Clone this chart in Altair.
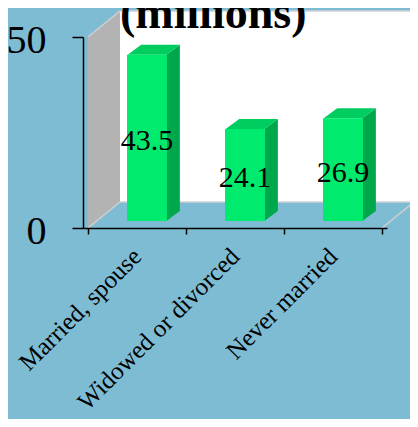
import json
import altair as alt
import pandas as pd

# ---- data ----
categories = ["Married, spouse", "Widowed or divorced", "Never married"]
values = [43.5, 24.1, 26.9]
y_ticks = [0, 50]
title_text = "(millions)"

# ---- layout / style constants (pixels) ----
W, H = 304, 191
XMAX, YMAX = 3, 50
pxx = W / XMAX
pxy = H / YMAX
WALL_DX, WALL_DY = 33, 26
BAR_DX, BAR_DY = 10, 7
BAR_W = 40
SIDE_DX, SIDE_DY = 14, 10

BG = "#7ebcd4"
FRONT = "#00ea6e"
TOP = "#00cd5f"
SIDE = "#00a84c"
WALL = "#b3b3b3"
EDGE = "#d0d0d0"
SERIF = "Liberation Serif"

# ---- tables built from the arrays ----
pos = [i + 0.5 for i in range(len(categories))]
bars = pd.DataFrame({"cat": categories, "pos": pos, "value": values})
bars["label"] = [f"{v:.1f}" for v in values]
bars["mid"] = [v / 2 for v in values]

hw = BAR_W / 2 / pxx
sdx = SIDE_DX / pxx
sdy = SIDE_DY / pxy
side_rows, top_rows = [], []
for c, p, v in zip(categories, pos, values):
    l, r = p - hw, p + hw
    side_rows += [dict(cat=c, x=r, y=0, y2=v),
                  dict(cat=c, x=r + sdx, y=sdy, y2=v + sdy)]
    top_rows += [dict(cat=c, x=l, y=v, y2=v),
                 dict(cat=c, x=l + sdx, y=v, y2=v + sdy),
                 dict(cat=c, x=r, y=v, y2=v + sdy),
                 dict(cat=c, x=r + sdx, y=v + sdy, y2=v + sdy)]
side_df = pd.DataFrame(side_rows)
top_df = pd.DataFrame(top_rows)

D = WALL_DX / pxx
DY = WALL_DY / pxy
XR = XMAX + D + 0.6
back_df = pd.DataFrame([dict(x=D, x2=XR, y=DY, y2=YMAX + DY)])
sidewall_df = pd.DataFrame([dict(x=0, y=0, y2=YMAX), dict(x=D, y=DY, y2=YMAX + DY)])
floor_df = pd.DataFrame([dict(x=0, y=0, y2=0), dict(x=D, y=0, y2=DY),
                         dict(x=XMAX, y=0, y2=DY), dict(x=XMAX + D, y=DY, y2=DY)])
edge_df = pd.DataFrame([
    dict(x=XMAX, y=0, x2=XMAX + D, y2=DY),
    dict(x=0, y=0, x2=D, y2=DY),
    dict(x=0, y=YMAX, x2=D, y2=YMAX + DY),
    dict(x=D, y=YMAX + DY, x2=XR, y2=YMAX + DY),
    dict(x=D, y=DY, x2=XR, y2=DY),
])
title_df = pd.DataFrame({"t": [title_text]})

# ---- scales & axes ----
xs = alt.Scale(domain=[0, XMAX], nice=False, zero=False)
ys = alt.Scale(domain=[0, YMAX], nice=False, zero=False)
label_expr = json.dumps(categories + [""]) + "[datum.value]"
x_axis = alt.Axis(
    values=list(range(XMAX + 1)), title=None, grid=False,
    labelExpr=label_expr, labelOffset=W / XMAX / 2 - 2, labelAngle=315,
    labelAlign="right", labelBaseline="middle", labelPadding=18,
    labelFont=SERIF, labelFontSize=25, labelColor="black", labelLimit=0,
    labelFlush=False, labelOverlap=False, labelBound=False,
    tickSize=6, tickColor="black", tickWidth=1.5,
    domainColor="black", domainWidth=1.5, zindex=2,
)
y_axis = alt.Axis(
    values=y_ticks, title=None, grid=False,
    labelFont=SERIF, labelFontSize=40, labelColor="black",
    labelPadding=26, labelBaseline="middle", labelOffset=3,
    labelFlush=False, labelOverlap=False, labelBound=False,
    tickSize=11, tickColor="black", tickWidth=1.5,
    domainColor="black", domainWidth=1.5, zindex=2,
)

def X(f="x"):
    return alt.X(f"{f}:Q", scale=xs, axis=x_axis)

def Y(f="y"):
    return alt.Y(f"{f}:Q", scale=ys, axis=y_axis)

shift = dict(xOffset=BAR_DX, x2Offset=BAR_DX, yOffset=-BAR_DY, y2Offset=-BAR_DY)

back = alt.Chart(back_df).mark_rect(color="white").encode(
    x=X(), x2="x2:Q", y=Y(), y2="y2:Q")
sidewall = alt.Chart(sidewall_df).mark_area(color=WALL, orient="vertical").encode(
    x=X(), y=Y(), y2="y2:Q")
floor = alt.Chart(floor_df).mark_area(color=BG, orient="vertical").encode(
    x=X(), y=Y(), y2="y2:Q")
edges = alt.Chart(edge_df).mark_rule(color=EDGE, strokeWidth=1.5).encode(
    x=X(), y=Y(), x2="x2:Q", y2="y2:Q")

side = alt.Chart(side_df).mark_area(color=SIDE, orient="vertical", **shift).encode(
    x=X(), y=Y(), y2="y2:Q", detail="cat:N")
top = alt.Chart(top_df).mark_area(color=TOP, orient="vertical", **shift).encode(
    x=X(), y=Y(), y2="y2:Q", detail="cat:N")
front = alt.Chart(bars).mark_bar(
    color=FRONT, orient="vertical", size=BAR_W, **shift).encode(
    x=X("pos"), y=Y("value"))
labels = alt.Chart(bars).mark_text(
    font=SERIF, fontSize=30, color="black", baseline="middle", align="center",
    xOffset=BAR_DX, yOffset=-BAR_DY + 3).encode(
    x=X("pos"), y=Y("mid"), text="label:N")
title = alt.Chart(title_df).mark_text(
    font=SERIF, fontSize=46, fontWeight="bold", color="black",
    align="left", baseline="alphabetic").encode(
    x=alt.value(37), y=alt.value(-9), text="t:N")

chart = alt.layer(back, sidewall, floor, edges, side, top, front, labels, title).properties(
    width=W, height=H,
    autosize=alt.AutoSizeParams(type="none"),
    padding={"left": 75, "top": 29, "right": 23, "bottom": 191},
    background=BG,
).configure_view(stroke=None)

chart.save("out.html", embed_options={"renderer": "svg", "actions": False})
